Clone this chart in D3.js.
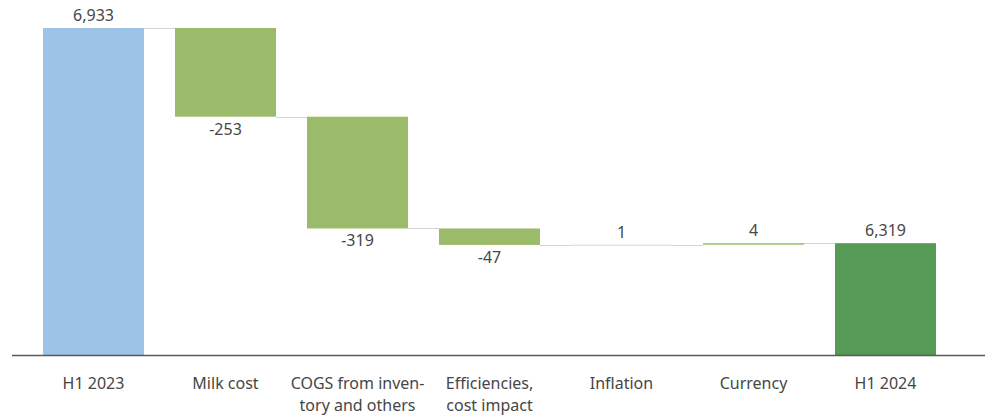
<!DOCTYPE html>
<html lang="en">
<head>
	<meta charset="UTF-8">
	<title>Waterfall</title>
	<style>
		body { margin: 0; background: #fff; }
		text { font-family: "Noto Sans", sans-serif; fill: #464646; }
	</style>
</head>
<body>
	<script src="https://d3js.org/d3.v7.min.js"></script>
	<script type="text/javascript">
		var width = 985;
		var height = 416;

		var categories = [["H1 2023"], ["Milk cost"], ["COGS from inven-", "tory and others"], ["Efficiencies,", "cost impact"], ["Inflation"], ["Currency"], ["H1 2024"]];
		var values = [6933, -253, -319, -47, 1, 4, 6319];
		var types = ["total", "delta", "delta", "delta", "delta", "delta", "total"];
		var barColors = ["#9dc3e6", "#9bbb6a", "#9bbb6a", "#9bbb6a", "#e2e6d2", "#8fc162", "#559a55"];
		var yDomain = [6000, 6933];

		var svg = d3.select("body").append("svg").attr("width", width).attr("height", height);

		// build start/end for each step
		var running = 0;
		var bars = values.map(function(v, i) {
			var b = {i: i, v: v, type: types[i]};
			if (types[i] == "total") {
				b.start = yDomain[0];
				b.end = v;
				running = v;
			} else {
				b.start = running;
				running = running + v;
				b.end = running;
			}
			return b;
		});

		var XScale = d3.scaleBand().domain(d3.range(values.length)).range([27.5, 951.5])
			.paddingInner(0.235).paddingOuter(0.1175);
		var YScale = d3.scaleLinear().domain(yDomain).range([355, 28]);

		// connectors
		svg.selectAll("line.conn")
			.data(bars.slice(0, bars.length - 1))
			.enter()
			.append("line")
			.attr("x1", function(d) { return XScale(d.i) + XScale.bandwidth(); })
			.attr("x2", function(d) { return XScale(d.i + 1); })
			.attr("y1", function(d) { return Math.round(YScale(d.end)) + 0.5; })
			.attr("y2", function(d) { return Math.round(YScale(d.end)) + 0.5; })
			.attr("stroke", "#d6d2cf")
			.attr("stroke-width", 1);

		svg.selectAll("rect")
			.data(bars)
			.enter()
			.append("rect")
			.attr("x", function(d) { return XScale(d.i); })
			.attr("y", function(d) { return YScale(Math.max(d.start, d.end)); })
			.attr("width", XScale.bandwidth())
			.attr("height", function(d) { return Math.max(1.5, Math.abs(YScale(d.start) - YScale(d.end))); })
			.attr("fill", function(d) { return barColors[d.i]; });

		// value labels
		svg.selectAll("text.val")
			.data(bars)
			.enter()
			.append("text")
			.attr("class", "val")
			.attr("x", function(d) { return XScale(d.i) + XScale.bandwidth() / 2; })
			.attr("y", function(d) {
				if (d.v < 0) return YScale(d.end) + 18;
				return YScale(Math.max(d.start, d.end)) - 7;
			})
			.attr("text-anchor", "middle")
			.style("font-size", "16px")
			.text(function(d) { return d3.format(",")(d.v).replace("−", "-"); });

		//x axis line
		svg.append("line")
			.attr("x1", 12).attr("x2", 985)
			.attr("y1", 355.5).attr("y2", 355.5)
			.attr("stroke", "#595959")
			.attr("stroke-width", 1.3);

		// category labels
		var lab = svg.selectAll("text.cat")
			.data(categories)
			.enter()
			.append("text")
			.attr("class", "cat")
			.attr("text-anchor", "middle")
			.style("font-size", "16px")
			.attr("transform", function(d, i) { return "translate(" + (XScale(i) + XScale.bandwidth() / 2) + ",389)"; });
		lab.selectAll("tspan")
			.data(function(d) { return d; })
			.enter()
			.append("tspan")
			.attr("x", 0)
			.attr("y", function(d, j) { return j * 22; })
			.text(function(d) { return d; });
	</script>
</body>
</html>
